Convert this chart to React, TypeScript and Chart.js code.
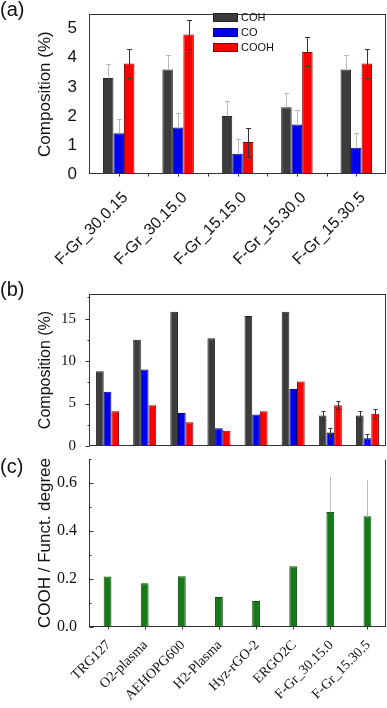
import React, { useEffect, useRef } from "react";
import { Chart, registerables } from "chart.js";
Chart.register(...registerables);

// ---------- Data ----------
const catsA = ["F-Gr_30.0.15", "F-Gr_30.15.0", "F-Gr_15.15.0", "F-Gr_15.30.0", "F-Gr_15.30.5"];
const cohA = [3.3, 3.6, 2.0, 2.3, 3.6];
const coA = [1.4, 1.6, 0.7, 1.7, 0.9];
const coohA = [3.8, 4.8, 1.1, 4.2, 3.8];
const cohErrA = [0.5, 0.5, 0.5, 0.5, 0.5];
const coErrA = [0.5, 0.5, 0.5, 0.5, 0.5];
const coohErrA = [0.5, 0.5, 0.5, 0.5, 0.5];

const catsBC = ["TRG127", "O2-plasma", "AEHOPG600", "H2-Plasma", "Hyz-rGO-2", "ERGO2C", "F-Gr_30.15.0", "F-Gr_15.30.5"];
const cohB = [8.8, 12.5, 15.8, 12.7, 15.3, 15.8, 3.6, 3.6];
const coB = [6.4, 9.0, 3.9, 2.1, 3.7, 6.7, 1.6, 0.9];
const coohB = [4.1, 4.8, 2.8, 1.8, 4.1, 7.6, 4.8, 3.8];
const cohErrB = [null, null, null, null, null, null, 0.5, 0.5];
const coErrB = [null, null, null, null, null, null, 0.5, 0.5];
const coohErrB = [null, null, null, null, null, null, 0.5, 0.5];

const ratioC = [0.21, 0.182, 0.211, 0.125, 0.108, 0.253, 0.479, 0.461];
const ratioErrC = [null, null, null, null, null, null, 0.15, 0.15];

const seriesNames = ["COH", "CO", "COOH"];

// ---------- Styles ----------
const GRAY = "#3c3c3c", GRAY_B = "#222222";
const BLUE = "#0000f0", BLUE_B = "#00007a";
const RED = "#ff0000", RED_B = "#8b0000";
const GREEN = "#167a16", GREEN_B = "#0d4f0d";
const ERR_LIGHT = "#b8b8b8", ERR_DARK = "#333333";
const AXIS = "#333333";
const SANS = "'Liberation Sans', Arial, sans-serif";
const SERIF = "'Liberation Serif', 'Times New Roman', serif";

// ---------- Plugins ----------
const errorBarsPlugin = {
  id: "errorBars",
  afterDatasetsDraw(chart: any) {
    const ctx = chart.ctx;
    const ys = chart.scales.y;
    chart.data.datasets.forEach((ds: any, i: number) => {
      if (!ds.errors) return;
      const meta = chart.getDatasetMeta(i);
      meta.data.forEach((el: any, j: number) => {
        const e = ds.errors[j];
        if (e == null) return;
        const v = ds.data[j];
        const x = Math.round(el.x) + 0.5;
        const yHi = Math.round(ys.getPixelForValue(v + e)) + 0.5;
        const yLo = Math.round(ys.getPixelForValue(ds.errMode === "up" ? v : v - e)) + 0.5;
        const c = ds.capW / 2;
        ctx.save();
        ctx.strokeStyle = ds.errColor;
        ctx.lineWidth = 1;
        ctx.beginPath();
        ctx.moveTo(x, yLo);
        ctx.lineTo(x, yHi);
        ctx.moveTo(x - c, yHi);
        ctx.lineTo(x + c, yHi);
        if (ds.errMode !== "up") {
          ctx.moveTo(x - c, yLo);
          ctx.lineTo(x + c, yLo);
        }
        ctx.stroke();
        ctx.restore();
      });
    });
  },
};

// Rotated (45°) category labels placed from the x scale
const rotLabelsPlugin = {
  id: "rotLabels",
  afterDraw(chart: any, _args: any, opts: any) {
    if (!opts || !opts.font) return;
    const ctx = chart.ctx;
    const xs = chart.scales.x;
    const bottom = chart.chartArea.bottom;
    ctx.save();
    ctx.font = opts.font;
    ctx.fillStyle = opts.color || "#111";
    ctx.textAlign = "right";
    ctx.textBaseline = "top";
    chart.data.labels.forEach((lab: string, i: number) => {
      const x = xs.getPixelForValue(i) + opts.dx;
      const y = bottom + opts.dy;
      ctx.save();
      ctx.translate(x, y);
      ctx.rotate(-Math.PI / 4);
      ctx.fillText(lab, 0, 0);
      ctx.restore();
    });
    ctx.restore();
  },
};

const framePlugin = {
  id: "frame",
  afterDraw(chart: any, _args: any, opts: any) {
    const { left, right, top, bottom } = chart.chartArea;
    const ctx = chart.ctx;
    const L = Math.round(left) + 0.5;
    const R = Math.round(right) - 0.5;
    const T = Math.round(top) + 0.5;
    const B = Math.round(bottom) - 0.5;
    ctx.save();
    ctx.strokeStyle = opts.color || AXIS;
    ctx.lineWidth = 1;
    ctx.beginPath();
    const sides: string = opts.sides || "trbl";
    if (sides.includes("t")) { ctx.moveTo(L, T); ctx.lineTo(R + 0.5, T); }
    if (sides.includes("r")) { ctx.moveTo(R, T); ctx.lineTo(R, B + 0.5); }
    if (sides.includes("b")) { ctx.moveTo(L - 0.5, B); ctx.lineTo(R + 0.5, B); }
    if (sides.includes("l")) { ctx.moveTo(L, T - 0.5); ctx.lineTo(L, B + 0.5); }
    // y tick marks
    const ys = chart.scales.y;
    if (opts.yMinor) {
      const n = Math.round(ys.max / opts.yMinor + 1e-6);
      for (let k = 0; k <= n; k++) {
        const v = k * opts.yMinor;
        const ratio = v / opts.yMajor;
        const isMajor = Math.abs(ratio - Math.round(ratio)) < 1e-6;
        const len = isMajor ? opts.majorLen : opts.minorLen;
        const p = Math.round(ys.getPixelForValue(v)) + 0.5;
        ctx.moveTo(L, p);
        ctx.lineTo(L + opts.yDir * len, p);
      }
    }
    // x tick marks
    const xs = chart.scales.x;
    if (opts.xTicks) {
      const n = chart.data.labels.length;
      const w = (xs.getPixelForValue(1) - xs.getPixelForValue(0));
      for (let i = 0; i < n; i++) {
        const c = Math.round(xs.getPixelForValue(i)) + 0.5;
        ctx.moveTo(c, B);
        ctx.lineTo(c, B + opts.xLen);
        if (opts.xTicks === "both" && i < n - 1) {
          const b = Math.round(xs.getPixelForValue(i) + w / 2) + 0.5;
          ctx.moveTo(b, B);
          ctx.lineTo(b, B + opts.xLen);
        }
      }
    }
    ctx.stroke();
    ctx.restore();
  },
};

function bar(label: string, data: number[], bg: string, border: string, errors: any, errColor: string, errMode: string, capW: number) {
  return {
    label, data, backgroundColor: bg, borderColor: border, borderWidth: 1,
    errors, errColor, errMode, capW,
  };
}

function useChart(ref: any, makeConfig: () => any) {
  useEffect(() => {
    const chart = new Chart(ref.current, makeConfig());
    return () => chart.destroy();
  }, []);
}

const configA = () => ({
  type: "bar",
  data: {
    labels: catsA,
    datasets: [
      bar(seriesNames[0], cohA, GRAY, GRAY_B, cohErrA, ERR_LIGHT, "up", 5),
      bar(seriesNames[1], coA, BLUE, BLUE_B, coErrA, ERR_LIGHT, "up", 5),
      bar(seriesNames[2], coohA, RED, RED_B, coohErrA, ERR_DARK, "both", 5),
    ],
  },
  plugins: [errorBarsPlugin, framePlugin, rotLabelsPlugin],
  options: {
    responsive: false,
    animation: false,
    layout: { padding: { top: 6, right: 1, left: 0, bottom: 0 } },
    datasets: { bar: { categoryPercentage: 0.53, barPercentage: 1 } },
    plugins: {
      legend: { display: false },
      tooltip: { enabled: false },
      frame: { sides: "trbl", xTicks: "both", xLen: 3 },
      rotLabels: { font: `16px ${SANS}`, color: "#111", dx: 1, dy: 15.5 },
    },
    scales: {
      x: {
        type: "category",
        offset: true,
        grid: { display: false },
        border: { display: false },
        ticks: { display: false },
        afterFit: (s: any) => { s.height = 101; },
      },
      y: {
        min: 0, max: 5.5,
        grid: { display: false },
        border: { display: false },
        ticks: { stepSize: 1, includeBounds: false, padding: 4, color: "#111", font: { family: SANS, size: 17 } },
        title: { display: true, text: "Composition (%)", color: "#111", font: { family: SANS, size: 17, lineHeight: 1.2 }, padding: { top: 35, bottom: 0 } },
        afterFit: (s: any) => { s.width = 89; },
      },
    },
  },
});

const configB = () => ({
  type: "bar",
  data: {
    labels: catsBC,
    datasets: [
      bar(seriesNames[0], cohB, GRAY, GRAY_B, cohErrB, ERR_DARK, "both", 4),
      bar(seriesNames[1], coB, BLUE, BLUE_B, coErrB, ERR_DARK, "both", 4),
      bar(seriesNames[2], coohB, RED, RED_B, coohErrB, ERR_DARK, "both", 4),
    ],
  },
  plugins: [errorBarsPlugin, framePlugin],
  options: {
    responsive: false,
    animation: false,
    layout: { padding: { top: 12, right: 1, left: 0, bottom: 1 } },
    datasets: { bar: { categoryPercentage: 0.62, barPercentage: 1 } },
    plugins: {
      legend: { display: false },
      tooltip: { enabled: false },
      frame: { sides: "trbl", yMinor: 2.5, yMajor: 5, majorLen: -4, minorLen: -2, yDir: 1 },
    },
    scales: {
      x: { type: "category", offset: true, display: false },
      y: {
        min: 0, max: 17.9,
        grid: { display: false },
        border: { display: false },
        ticks: {
          stepSize: 2.5, includeBounds: false, autoSkip: false, padding: 5, color: "#111",
          font: { family: SERIF, size: 15 },
          callback: (v: number) => (Math.abs(v % 5) < 1e-6 ? String(v) : ""),
        },
        title: { display: true, text: "Composition (%)", color: "#111", font: { family: SANS, size: 16, lineHeight: 1.2 }, padding: { top: 36, bottom: 0 } },
        afterFit: (s: any) => { s.width = 89; },
      },
    },
  },
});

const configC = () => ({
  type: "bar",
  data: {
    labels: catsBC,
    datasets: [
      {
        label: "COOH / Funct. degree", data: ratioC, backgroundColor: GREEN, borderColor: GREEN_B, borderWidth: 1,
        errors: ratioErrC, errColor: ERR_LIGHT, errMode: "up", capW: 0,
      },
    ],
  },
  plugins: [errorBarsPlugin, framePlugin, rotLabelsPlugin],
  options: {
    responsive: false,
    animation: false,
    layout: { padding: { top: 19, right: 1, left: 0, bottom: 0 } },
    datasets: { bar: { categoryPercentage: 0.21, barPercentage: 1 } },
    plugins: {
      legend: { display: false },
      tooltip: { enabled: false },
      frame: { sides: "rbl", yMinor: 0.1, yMajor: 0.2, majorLen: 4, minorLen: 2, yDir: 1, xTicks: "center", xLen: 3 },
      rotLabels: { font: `14px ${SERIF}`, color: "#111", dx: -4, dy: 11 },
    },
    scales: {
      x: {
        type: "category",
        offset: true,
        grid: { display: false },
        border: { display: false },
        ticks: { display: false },
        afterFit: (s: any) => { s.height = 81; },
      },
      y: {
        min: 0, max: 0.7,
        grid: { display: false },
        border: { display: false },
        ticks: {
          stepSize: 0.1, includeBounds: false, autoSkip: false, padding: 4, color: "#111",
          font: { family: SERIF, size: 16 },
          callback: (v: number) => (Math.round(v * 10) % 2 === 0 ? v.toFixed(1) : ""),
        },
        title: { display: true, text: "COOH / Funct. degree", color: "#111", font: { family: SANS, size: 17, lineHeight: 1.2 }, padding: { top: 35, bottom: 0 } },
        afterFit: (s: any) => { s.width = 89; },
      },
    },
  },
});

const panelLabel = (text: string, top: number) => (
  <div style={{ position: "absolute", left: 0, top, fontFamily: SANS, fontSize: 20, lineHeight: 1, color: "#111" }}>{text}</div>
);

const legendRows = [
  { name: seriesNames[0], color: GRAY, border: GRAY_B, top: 13 },
  { name: seriesNames[1], color: BLUE, border: BLUE_B, top: 28 },
  { name: seriesNames[2], color: RED, border: RED_B, top: 43 },
];

export default function App() {
  const refA = useRef<HTMLCanvasElement>(null);
  const refB = useRef<HTMLCanvasElement>(null);
  const refC = useRef<HTMLCanvasElement>(null);
  useChart(refA, configA);
  useChart(refB, configB);
  useChart(refC, configC);
  return (
    <div style={{ position: "fixed", left: 0, top: 0, width: 387, height: 708, background: "#fff", overflow: "hidden" }}>
      <canvas ref={refA} width={387} height={275} style={{ position: "absolute", left: 0, top: 0, display: "block" }} />
      <canvas ref={refB} width={387} height={180} style={{ position: "absolute", left: 0, top: 280, display: "block" }} />
      <canvas ref={refC} width={387} height={268} style={{ position: "absolute", left: 0, top: 440, display: "block" }} />
      {panelLabel("(a)", -1)}
      {panelLabel("(b)", 279)}
      {panelLabel("(c)", 456)}
      {legendRows.map((r) => (
        <div key={r.name} style={{ position: "absolute", left: 213, top: r.top, height: 8, display: "flex", alignItems: "center" }}>
          <div style={{ width: 23, height: 7, background: r.color, border: `1px solid ${r.border}` }} />
          <div style={{ marginLeft: 3, fontFamily: SANS, fontSize: 11, lineHeight: 1, color: "#111" }}>{r.name}</div>
        </div>
      ))}
    </div>
  );
}
